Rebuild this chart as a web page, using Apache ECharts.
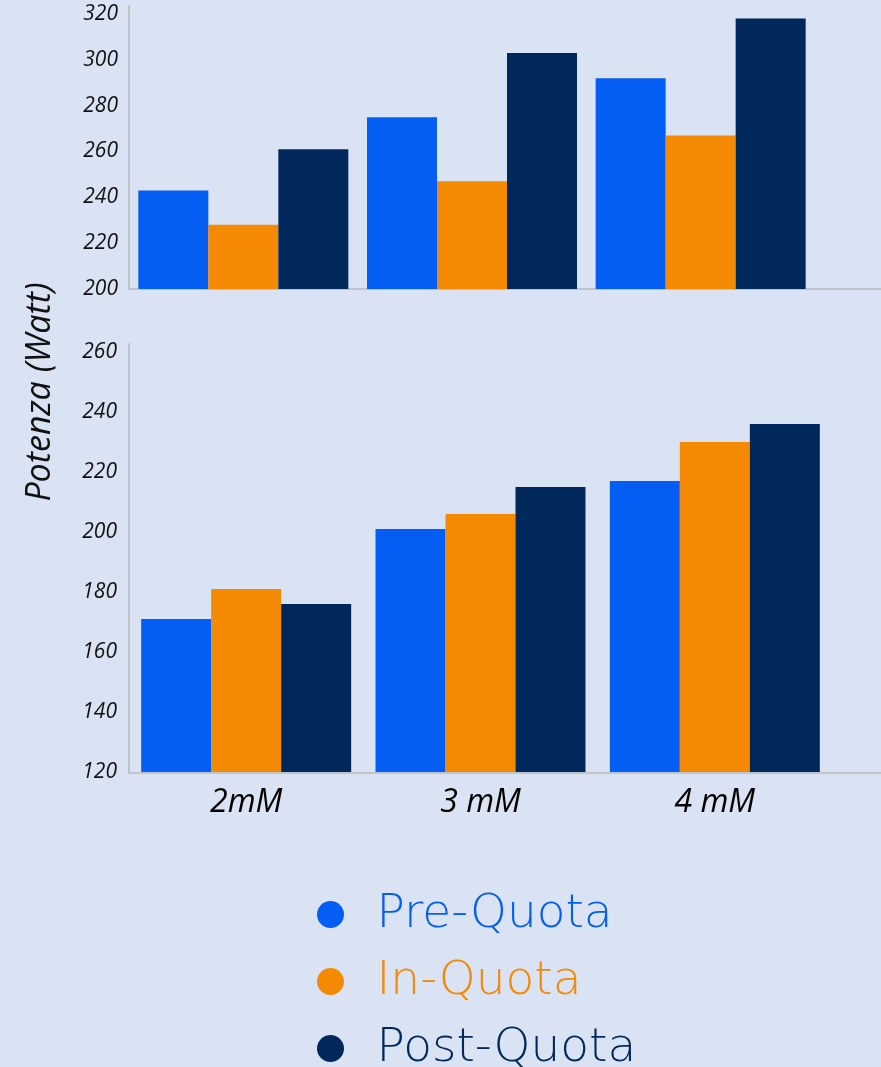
<!DOCTYPE html>
<html>
<head>
<meta charset="utf-8">
<script src="https://cdn.jsdelivr.net/npm/echarts@6/dist/echarts.min.js"></script>
<style>
  html, body { margin: 0; padding: 0; background: #DAE3F3; }
  #chart { width: 881px; height: 1067px; }
</style>
</head>
<body>
<div id="chart"></div>
<script>
// ---- data ----
const categories = ['2mM', '3 mM', '4 mM'];
const seriesNames = ['Pre-Quota', 'In-Quota', 'Post-Quota'];
const seriesColors = ['#045EF4', '#F48903', '#00285B'];

// upper panel (y 200-320)
const topPre  = [243, 275, 292];
const topIn   = [228, 247, 267];
const topPost = [261, 303, 318];
const topMin = 200, topMax = 320, topStep = 20;

// lower panel (y 120-260)
const botPre  = [171, 201, 217];
const botIn   = [181, 206, 230];
const botPost = [176, 215, 236];
const botMin = 120, botMax = 260, botStep = 20;

const yTitle = 'Potenza (Watt)';

// ---- chart ----
const chart = echarts.init(document.getElementById('chart'));
const axisGray = '#BFC3CA';
const tickFont = { color: '#111', fontSize: 21, fontStyle: 'italic', fontFamily: 'Open Sans', fontWeight: 500 };

function barSeries(name, data, idx, color) {
  return {
    type: 'bar', name: name, data: data,
    xAxisIndex: idx, yAxisIndex: idx,
    barWidth: 70, barGap: '0%',
    itemStyle: { color: color },
    emphasis: { disabled: true }
  };
}

const option = {
  backgroundColor: '#DAE3F3',
  animation: false,
  grid: [
    { left: 129, top: 14, width: 686, height: 275 },
    { left: 129, top: 352, width: 703, height: 420 },
    { left: 129, top: 6, right: 0, height: 283 },
    { left: 129, top: 344, right: 0, height: 429 }
  ],
  xAxis: [
    { type: 'category', gridIndex: 0, data: categories, axisLine: { show: false }, axisTick: { show: false }, axisLabel: { show: false } },
    { type: 'category', gridIndex: 1, data: categories, axisLine: { show: false }, axisTick: { show: false },
      axisLabel: { margin: 15, color: '#000', fontSize: 32, fontStyle: 'italic', fontFamily: 'Open Sans', fontWeight: 500 } },
    { type: 'category', gridIndex: 2, data: [''], axisLine: { show: true, lineStyle: { color: axisGray, width: 2 } }, axisTick: { show: false }, axisLabel: { show: false } },
    { type: 'category', gridIndex: 3, data: [''], axisLine: { show: true, lineStyle: { color: axisGray, width: 2 } }, axisTick: { show: false }, axisLabel: { show: false } }
  ],
  yAxis: [
    { type: 'value', gridIndex: 0, min: topMin, max: topMax, interval: topStep,
      axisLine: { show: false }, axisTick: { show: false }, splitLine: { show: false },
      axisLabel: Object.assign({ margin: 11 }, tickFont) },
    { type: 'value', gridIndex: 1, min: botMin, max: botMax, interval: botStep,
      axisLine: { show: false }, axisTick: { show: false }, splitLine: { show: false },
      axisLabel: Object.assign({ margin: 12 }, tickFont) },
    { type: 'value', gridIndex: 2, min: 0, max: 1,
      axisLine: { show: true, lineStyle: { color: axisGray, width: 2 } }, axisTick: { show: false }, splitLine: { show: false }, axisLabel: { show: false } },
    { type: 'value', gridIndex: 3, min: 0, max: 1,
      axisLine: { show: true, lineStyle: { color: axisGray, width: 2 } }, axisTick: { show: false }, splitLine: { show: false }, axisLabel: { show: false } }
  ],
  legend: {
    orient: 'vertical',
    left: 317, top: 891,
    width: 560, height: 260,
    padding: 0,
    icon: 'circle',
    itemWidth: 82, itemHeight: 27,
    itemGap: 20,
    selectedMode: false,
    data: seriesNames.map((n, i) => ({ name: n, textStyle: { color: seriesColors[i] } })),
    textStyle: { fontSize: 47, lineHeight: 45, fontFamily: 'DejaVu Sans', fontWeight: 200 }
  },
  graphic: [{
    type: 'text',
    x: 40, y: 392,
    rotation: Math.PI / 2,
    style: {
      text: yTitle,
      fill: '#111',
      font: 'italic 500 34px "Open Sans"',
      align: 'center',
      verticalAlign: 'middle'
    }
  }],
  series: [
    barSeries(seriesNames[0], topPre, 0, seriesColors[0]),
    barSeries(seriesNames[1], topIn, 0, seriesColors[1]),
    barSeries(seriesNames[2], topPost, 0, seriesColors[2]),
    barSeries(seriesNames[0], botPre, 1, seriesColors[0]),
    barSeries(seriesNames[1], botIn, 1, seriesColors[1]),
    barSeries(seriesNames[2], botPost, 1, seriesColors[2])
  ]
};
chart.setOption(option);
</script>
</body>
</html>
